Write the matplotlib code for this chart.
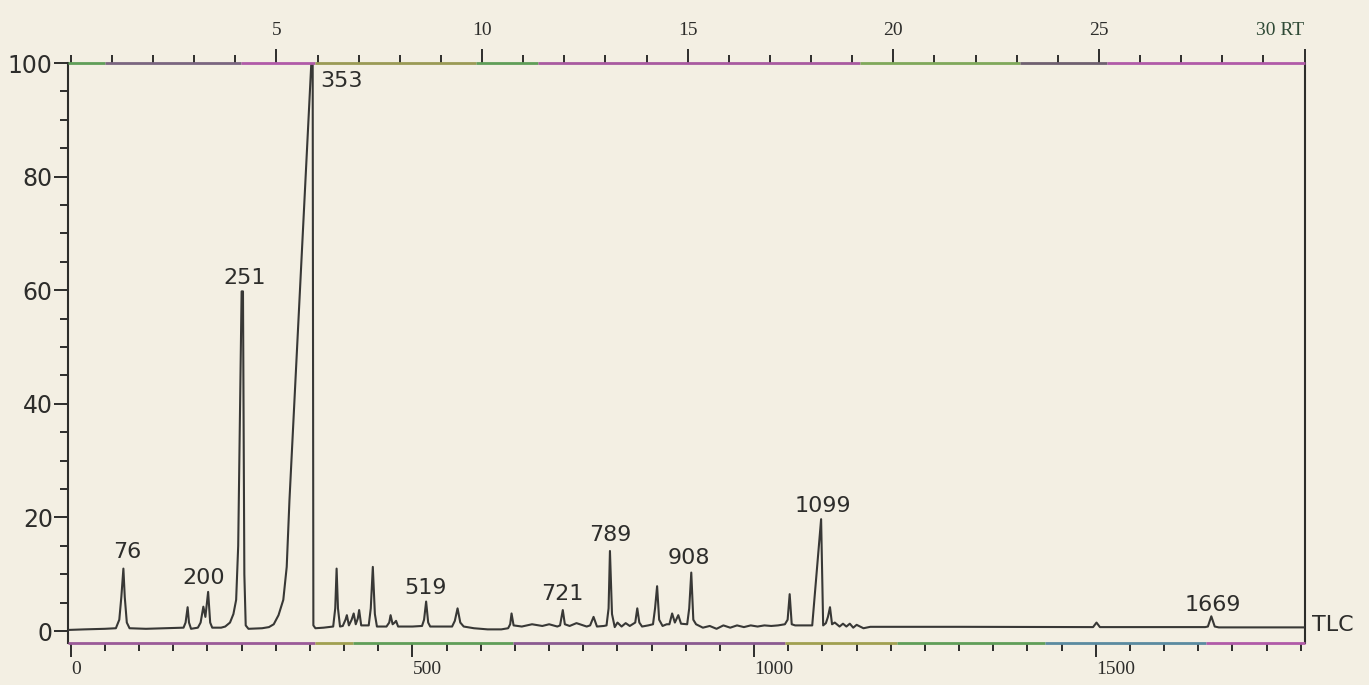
import numpy as np
import matplotlib
matplotlib.use("Agg")
import matplotlib.pyplot as plt
from matplotlib.ticker import MultipleLocator, FixedLocator

# trace vertices: (scan number, relative intensity %)
trace = [
    (-4, 0.2), (20, 0.3), (50, 0.4), (66, 0.5), (71, 2.0), (74, 6.0), (77, 11.0), (79, 6.0),
    (82, 1.5), (86, 0.5), (110, 0.4), (140, 0.5), (165, 0.6), (168, 1.5), (171, 4.2),
    (173, 1.5), (176, 0.4), (186, 0.6), (190, 1.5), (194, 4.3), (197, 2.5), (201, 6.9),
    (204, 1.5), (207, 0.6), (220, 0.6), (226, 0.8), (233, 1.5), (238, 3.0), (242, 5.5),
    (245, 15.0), (250, 59.8), (252, 59.8), (254, 10.0), (256, 1.0), (260, 0.4),
    (280, 0.5), (290, 0.7), (297, 1.2), (304, 2.8), (311, 5.5), (316, 11.3), (320, 23.0),
    (352, 100.0), (354, 100.0), (355, 1.0), (358, 0.5), (370, 0.6),
    (384, 0.8), (387, 4.0), (389, 11.0), (391, 4.0), (394, 0.8), (398, 0.9), (402, 2.0),
    (404, 2.8), (407, 1.0), (411, 2.0), (414, 3.1), (417, 1.2), (420, 2.2), (422, 3.7),
    (425, 1.0), (436, 1.0), (439, 4.0), (442, 11.3), (445, 3.0), (448, 0.8),
    (462, 0.8), (466, 1.5), (468, 2.8), (471, 1.2), (474, 1.5), (476, 1.8), (479, 0.8),
    (500, 0.8), (514, 0.9), (517, 2.0), (520, 5.2), (523, 1.5), (526, 0.8),
    (558, 0.8), (562, 1.8), (566, 4.0), (570, 1.5), (575, 0.8),
    (590, 0.5), (610, 0.3), (630, 0.3), (640, 0.5), (643, 1.2), (645, 3.1), (648, 1.0),
    (660, 0.8), (675, 1.2), (690, 0.9), (700, 1.2), (712, 0.8), (716, 1.0), (720, 3.7),
    (723, 1.2), (730, 0.9), (740, 1.4), (755, 0.8), (760, 1.0), (765, 2.5), (770, 0.8),
    (780, 0.9), (784, 1.0), (787, 4.0), (789, 14.1), (792, 3.0), (796, 0.7), (800, 1.5),
    (806, 0.8), (812, 1.4), (818, 0.9), (822, 1.2), (826, 1.5), (829, 4.0), (832, 1.5),
    (836, 0.8), (845, 1.0), (852, 1.2), (855, 4.0), (858, 7.9), (861, 2.0), (866, 0.9),
    (872, 1.2), (876, 1.2), (880, 3.1), (884, 1.5), (889, 2.8), (893, 1.3), (902, 1.2),
    (905, 4.0), (908, 10.3), (911, 2.0), (915, 1.2),
    (925, 0.6), (935, 0.9), (945, 0.4), (955, 1.0), (965, 0.6), (975, 1.0), (985, 0.7),
    (995, 1.0), (1005, 0.8), (1015, 1.0), (1025, 0.9), (1035, 1.0), (1045, 1.2),
    (1049, 2.0), (1052, 6.5), (1055, 1.2), (1060, 1.0), (1075, 1.0), (1085, 1.0),
    (1098, 19.7), (1101, 1.0), (1105, 1.4), (1108, 2.5), (1111, 4.2), (1114, 1.2),
    (1118, 1.5), (1125, 0.8), (1130, 1.3), (1135, 0.8), (1140, 1.3), (1145, 0.6),
    (1150, 1.1), (1160, 0.5), (1170, 0.75), (1300, 0.75), (1490, 0.7), (1496, 0.7),
    (1501, 1.5), (1506, 0.7), (1512, 0.7), (1600, 0.7), (1660, 0.7), (1664, 0.8),
    (1669, 2.6), (1674, 0.8), (1680, 0.65), (1806, 0.65),
]
scan = [p[0] for p in trace]
intensity = [p[1] for p in trace]

# labelled peaks: text, label centre (scan, intensity)
peak_names = ["76", "200", "251", "353", "519", "721", "789", "908", "1099", "1669"]
label_scan = [82, 195, 255, 396, 519, 719, 789, 905, 1100, 1671]
label_int = [13.9, 9.3, 62.2, 96.9, 7.5, 6.5, 16.9, 12.8, 22.1, 4.6]

rt_ticks = [5, 10, 15, 20, 25, 30]
rt_labels = ["5", "10", "15", "20", "25", "30 RT"]
scan_ticks = [0, 500, 1000, 1500]
y_ticks = [0, 20, 40, 60, 80, 100]
scans_per_min = 60.18

paper = "#f3efe3"
ink = "#2d2d2b"

fig = plt.figure(figsize=(13.69, 6.85), dpi=100, facecolor=paper)
ax = fig.add_axes([0.0497, 0.0613, 0.9035, 0.8467])
ax.set_facecolor(paper)

ax.plot(scan, intensity, color="#383836", lw=1.5, solid_joinstyle="round", zorder=3)

for name, sx, sy in zip(peak_names, label_scan, label_int):
    ax.text(sx, sy, name, ha="center", va="center", fontsize=16,
            family="DejaVu Sans", color=ink)

ax.set_xlim(-4, 1806)
ax.set_ylim(-2.1, 100)

# left axis
ax.yaxis.set_major_locator(FixedLocator(y_ticks))
ax.yaxis.set_minor_locator(MultipleLocator(5))
ax.tick_params(axis="y", which="major", direction="out", length=10, width=1.4,
               pad=1, labelsize=17, colors=ink)
ax.tick_params(axis="y", which="minor", direction="out", length=6, width=1.4, colors=ink)
for t in ax.get_yticklabels():
    t.set_family("DejaVu Sans")

# bottom axis (scan number)
ax.xaxis.set_major_locator(FixedLocator(scan_ticks))
ax.xaxis.set_minor_locator(MultipleLocator(50))
ax.tick_params(axis="x", which="major", direction="out", length=10, width=1.4,
               pad=3, labelsize=14, colors=ink)
ax.tick_params(axis="x", which="minor", direction="out", length=6, width=1.4, colors=ink)
for t in ax.get_xticklabels():
    t.set_family("Liberation Serif")
    t.set_ha("left")

# top axis (retention time, min)
top = ax.secondary_xaxis("top", functions=(lambda s: s / scans_per_min,
                                           lambda r: r * scans_per_min))
top.xaxis.set_major_locator(FixedLocator(rt_ticks))
top.xaxis.set_minor_locator(MultipleLocator(1))
top.set_xticklabels(rt_labels)
top.tick_params(axis="x", which="major", direction="out", length=10, width=1.4,
                pad=7, labelsize=14, colors=ink)
top.tick_params(axis="x", which="minor", direction="out", length=6, width=1.4, colors=ink)
for t in top.get_xticklabels():
    t.set_family("Liberation Serif")
top.get_xticklabels()[-1].set_ha("right")
top.get_xticklabels()[-1].set_color("#2f4a36")
top.spines["top"].set_visible(False)

for side in ["left", "right"]:
    ax.spines[side].set_color(ink)
    ax.spines[side].set_linewidth(1.5)
ax.spines["top"].set_visible(False)
ax.spines["bottom"].set_visible(False)

# the scanned axis lines have colour fringes
top_segs = [(0.00, 0.03, "#5f9e58"), (0.03, 0.14, "#7a6580"), (0.14, 0.20, "#b05aa8"),
            (0.20, 0.33, "#9a9a55"), (0.33, 0.38, "#5f9e58"), (0.38, 0.64, "#a85aa0"),
            (0.64, 0.77, "#7fa85a"), (0.77, 0.84, "#6f6070"), (0.84, 1.00, "#b05aa8")]
bot_segs = [(0.00, 0.20, "#9a5a98"), (0.20, 0.23, "#a0a050"), (0.23, 0.36, "#5f9e58"),
            (0.36, 0.58, "#8a5a90"), (0.58, 0.67, "#a0a050"), (0.67, 0.79, "#5f9e58"),
            (0.79, 0.92, "#5a8aa0"), (0.92, 1.00, "#b05aa8")]
for y, segs in [(1.0, top_segs), (0.0, bot_segs)]:
    for a, b, c in segs:
        ax.plot([a, b], [y, y], color=c, lw=2.0, transform=ax.transAxes,
                clip_on=False, zorder=5, solid_capstyle="butt")

fig.text(0.958, 0.0876, "TLC", ha="left", va="center", fontsize=16,
         family="DejaVu Sans", color=ink)

fig.savefig("out.png", dpi=100, facecolor=paper)
